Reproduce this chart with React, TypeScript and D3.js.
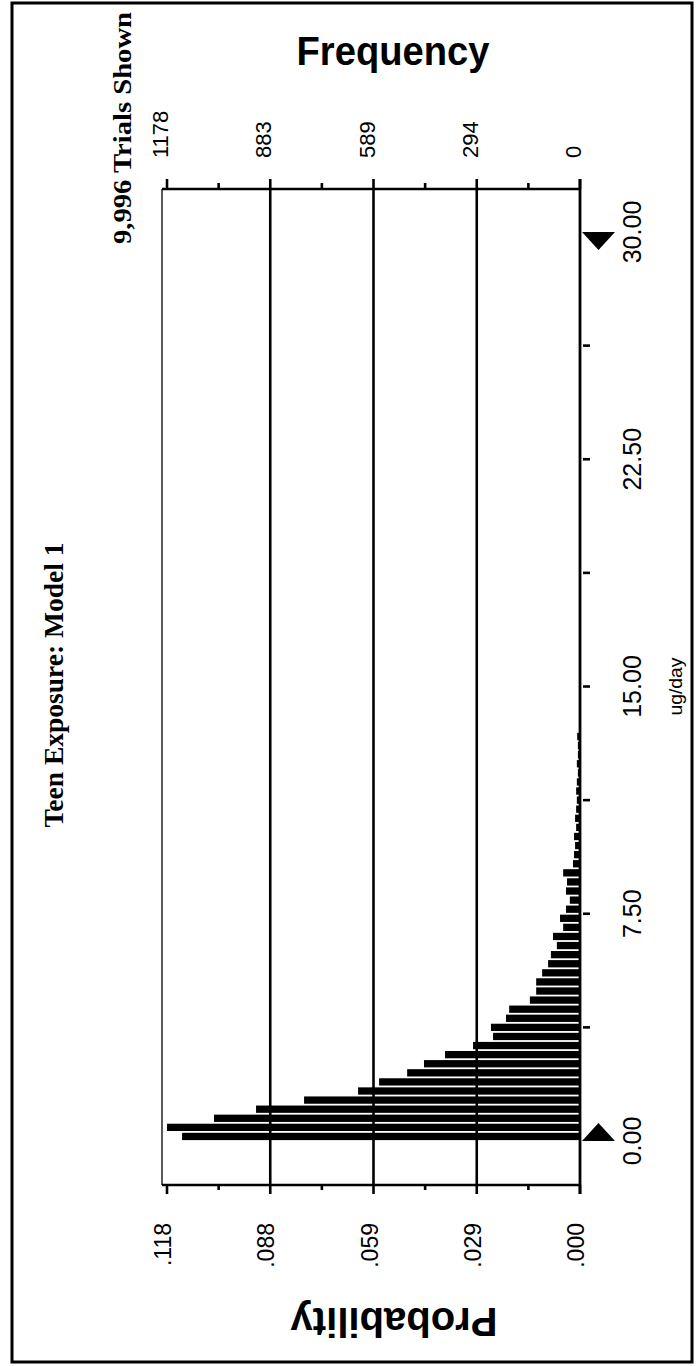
import React from "react";
import * as d3 from "d3";

// Histogram: frequency per 0.3 ug/day cell starting at 0
const BIN_WIDTH = 0.3;
const FREQ = [
  1135, 1178, 1044, 924, 787, 633, 573, 493, 445, 385, 305, 248, 254, 211, 202,
  143, 125, 125, 108, 91, 83, 66, 77, 48, 57, 40, 29, 40, 37, 48, 20, 17, 14, 17,
  11, 14, 11, 9, 11, 9, 6, 9, 6, 6, 8,
];
const X_TICKS = [0, 7.5, 15, 22.5, 30];
const X_LABELS = ["0.00", "7.50", "15.00", "22.50", "30.00"];
const X_MINOR = [3.75, 11.25, 18.75, 26.25];
const FREQ_TICKS = [1178, 883.5, 589, 294.5, 0];
const FREQ_LABELS = ["1178", "883", "589", "294", "0"];
const PROB_LABELS = [".118", ".088", ".059", ".029", ".000"];
const GRID_FREQ = [883.5, 589, 294.5];

const W = 697;
const H = 1366;
const SANS = "'Liberation Sans', Arial, sans-serif";
const SERIF = "'Liberation Serif', 'Times New Roman', serif";

export default function App() {
  const frameLeft = 162;
  const frameTop = 189;
  const frameBottom = 1185;
  const axisX = 580;

  const fx = d3.scaleLinear().domain([0, 1178]).range([axisX, 167]);
  const vy = d3.scaleLinear().domain([0, 30]).range([1141, 232]);
  const freqMinor = FREQ_TICKS.slice(0, -1).map((t, i) => (t + FREQ_TICKS[i + 1]) / 2);

  const tri = (v: number, dir: number) => {
    const y0 = vy(v);
    const p = d3.path();
    p.moveTo(582, y0);
    p.lineTo(615, y0);
    p.lineTo(598.5, y0 + dir * 18);
    p.closePath();
    return p.toString();
  };

  return (
    <svg
      width={W}
      height={H}
      style={{ position: "absolute", left: 0, top: 0, background: "#fff" }}
    >
      <rect x={0} y={0} width={W} height={H} fill="#fff" />
      {/* outer border */}
      <rect x={12} y={3} width={680} height={1359} fill="none" stroke="#000" strokeWidth={3} />

      {/* title */}
      <text
        transform={`translate(63,685) rotate(-90)`}
        textAnchor="middle"
        fontFamily={SERIF}
        fontWeight="bold"
        fontSize={27}
        textLength={285}
        lengthAdjust="spacingAndGlyphs"
      >
        Teen Exposure: Model 1
      </text>
      <text
        transform={`translate(131,12) rotate(-90)`}
        textAnchor="end"
        fontFamily={SERIF}
        fontWeight="bold"
        fontSize={26}
        textLength={232}
        lengthAdjust="spacingAndGlyphs"
      >
        9,996 Trials Shown
      </text>

      {/* Frequency title */}
      <text
        x={393}
        y={65}
        textAnchor="middle"
        fontFamily={SANS}
        fontWeight="bold"
        fontSize={41}
        textLength={193}
        lengthAdjust="spacingAndGlyphs"
      >
        Frequency
      </text>
      {/* Probability title (upside down) */}
      <text
        transform={`translate(394,1308) rotate(180)`}
        textAnchor="middle"
        fontFamily={SANS}
        fontWeight="bold"
        fontSize={41}
        textLength={207}
        lengthAdjust="spacingAndGlyphs"
      >
        Probability
      </text>

      {/* plot frame: left thin line */}
      <line x1={frameLeft} x2={frameLeft} y1={frameTop} y2={frameBottom} stroke="#000" strokeWidth={1.3} />
      {/* gridlines */}
      {GRID_FREQ.map((f) => (
        <line key={f} x1={fx(f)} x2={fx(f)} y1={frameTop} y2={frameBottom} stroke="#000" strokeWidth={2.6} />
      ))}

      {/* bars */}
      {FREQ.map((f, i) => {
        const y1 = vy((i + 1) * BIN_WIDTH);
        const y0 = vy(i * BIN_WIDTH);
        return (
          <rect
            key={i}
            x={fx(f)}
            y={y1 + 0.9}
            width={axisX - fx(f)}
            height={y0 - y1 - 1.8}
            fill="#000"
          />
        );
      })}

      {/* top (frequency) axis */}
      <line x1={frameLeft} x2={axisX} y1={frameTop} y2={frameTop} stroke="#000" strokeWidth={2.6} />
      {FREQ_TICKS.map((f) => (
        <line key={f} x1={fx(f)} x2={fx(f)} y1={frameTop} y2={179} stroke="#000" strokeWidth={2.6} />
      ))}
      {freqMinor.map((f) => (
        <line key={f} x1={fx(f)} x2={fx(f)} y1={frameTop} y2={183} stroke="#000" strokeWidth={2.6} />
      ))}
      {FREQ_LABELS.map((l, i) => (
        <text
          key={l}
          transform={`translate(${fx(FREQ_TICKS[i]) + 1},158) rotate(-90)`}
          textAnchor="start"
          fontFamily={SANS}
          fontSize={22}
        >
          {l}
        </text>
      ))}

      {/* bottom (probability) axis */}
      <line x1={frameLeft} x2={axisX} y1={frameBottom} y2={frameBottom} stroke="#000" strokeWidth={2.6} />
      {FREQ_TICKS.map((f) => (
        <line key={f} x1={fx(f)} x2={fx(f)} y1={frameBottom} y2={1194} stroke="#000" strokeWidth={2.6} />
      ))}
      {freqMinor.map((f) => (
        <line key={f} x1={fx(f)} x2={fx(f)} y1={frameBottom} y2={1190} stroke="#000" strokeWidth={2.6} />
      ))}
      {PROB_LABELS.map((l, i) => (
        <text
          key={l}
          transform={`translate(${fx(FREQ_TICKS[i]) + 4},1223) rotate(-90)`}
          textAnchor="end"
          fontFamily={SANS}
          fontSize={23}
        >
          {l}
        </text>
      ))}

      {/* value axis (ug/day) */}
      <line x1={axisX} x2={axisX} y1={179} y2={1194} stroke="#000" strokeWidth={2.8} />
      {[...X_TICKS.slice(1, -1), ...X_MINOR].map((v) => (
        <line key={v} x1={583} x2={590} y1={vy(v)} y2={vy(v)} stroke="#000" strokeWidth={2.6} />
      ))}
      <path d={tri(30, 1)} fill="#000" />
      <path d={tri(0, -1)} fill="#000" />
      {X_LABELS.map((l, i) => (
        <text
          key={l}
          transform={`translate(641,${vy(X_TICKS[i])}) rotate(-90)`}
          textAnchor="middle"
          fontFamily={SANS}
          fontSize={25}
        >
          {l}
        </text>
      ))}
      <text
        transform={`translate(682,${vy(15)}) rotate(-90)`}
        textAnchor="middle"
        fontFamily={SANS}
        fontSize={18}
        textLength={58}
        lengthAdjust="spacingAndGlyphs"
      >
        ug/day
      </text>
    </svg>
  );
}
